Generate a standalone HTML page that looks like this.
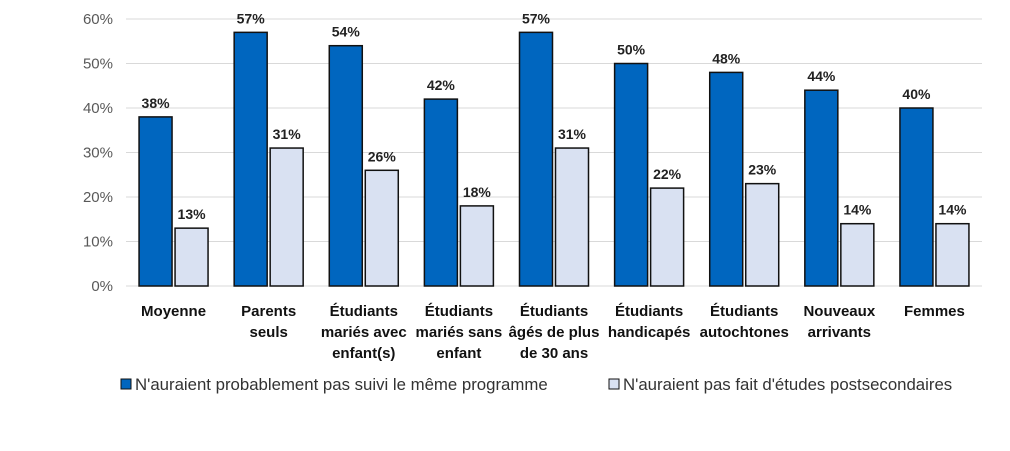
<!DOCTYPE html>
<html><head><meta charset="utf-8"><style>
body{margin:0;background:#fff;}
svg text{font-family:"Liberation Sans",sans-serif;}
</style></head><body>
<svg id="chart" width="1010" height="446" xmlns="http://www.w3.org/2000/svg"></svg>
<script>
const categories=[["Moyenne"],["Parents","seuls"],["Étudiants","mariés avec","enfant(s)"],["Étudiants","mariés sans","enfant"],["Étudiants","âgés de plus","de 30 ans"],["Étudiants","handicapés"],["Étudiants","autochtones"],["Nouveaux","arrivants"],["Femmes"]];
const seriesA=[38,57,54,42,57,50,48,44,40];
const seriesB=[13,31,26,18,31,22,23,14,14];
const ticks=[0,10,20,30,40,50,60];
const svg=document.getElementById('chart');
const NS='http://www.w3.org/2000/svg';
const x0=126,x1=982,yB=286,yT=19;
const y=v=>yB-(v/60)*(yB-yT);
const gw=(x1-x0)/categories.length;
function mk(t,a,parent){const e=document.createElementNS(NS,t);for(const k in a)e.setAttribute(k,a[k]);(parent||svg).appendChild(e);return e;}
ticks.forEach(t=>{
 const l=mk('line',{x1:x0,x2:x1,y1:y(t),y2:y(t),stroke:'#d9d9d9','stroke-width':1});
 
 
 const tx=mk('text',{x:113,y:y(t)+5,'text-anchor':'end','font-size':15,fill:'#595959'});
 tx.textContent=t+'%';
 
 
});
categories.forEach((c,i)=>{
 const cx=x0+gw*(i+0.5);
 const bw=33;
 [[seriesA[i],'#0066bf',cx-bw-1.5,'bar-series-a'],[seriesB[i],'#d9e1f2',cx+1.5,'bar-series-b']].forEach(([v,col,bx,nm])=>{
  const r=mk('rect',{x:bx,y:y(v),width:bw,height:yB-y(v),fill:col,stroke:'#111','stroke-width':1.5});
  
  
  const t=mk('text',{x:bx+bw/2,y:y(v)-9,'text-anchor':'middle','font-size':14,'font-weight':'bold',fill:'#222'});
  t.textContent=v+'%';
  
  
 });
 const tx=mk('text',{'text-anchor':'middle','font-size':15,'font-weight':'bold',fill:'#111'});
 
 
 c.forEach((ln,j)=>{const s=mk('tspan',{x:cx,y:316+j*21},tx);s.textContent=ln;});
});
const legend=[['#0066bf',121,"N'auraient probablement pas suivi le même programme"],['#d9e1f2',609,"N'auraient pas fait d'études postsecondaires"]];
legend.forEach(([col,lx,label])=>{
 const g=mk('g',{});
 
 
 mk('rect',{x:lx,y:379,width:10,height:10,fill:col,stroke:'#111','stroke-width':1},g);
 const t=mk('text',{x:lx+14,y:390,'font-size':16.8,fill:'#333'},g);
 t.textContent=label;
});
</script>
</body></html>
